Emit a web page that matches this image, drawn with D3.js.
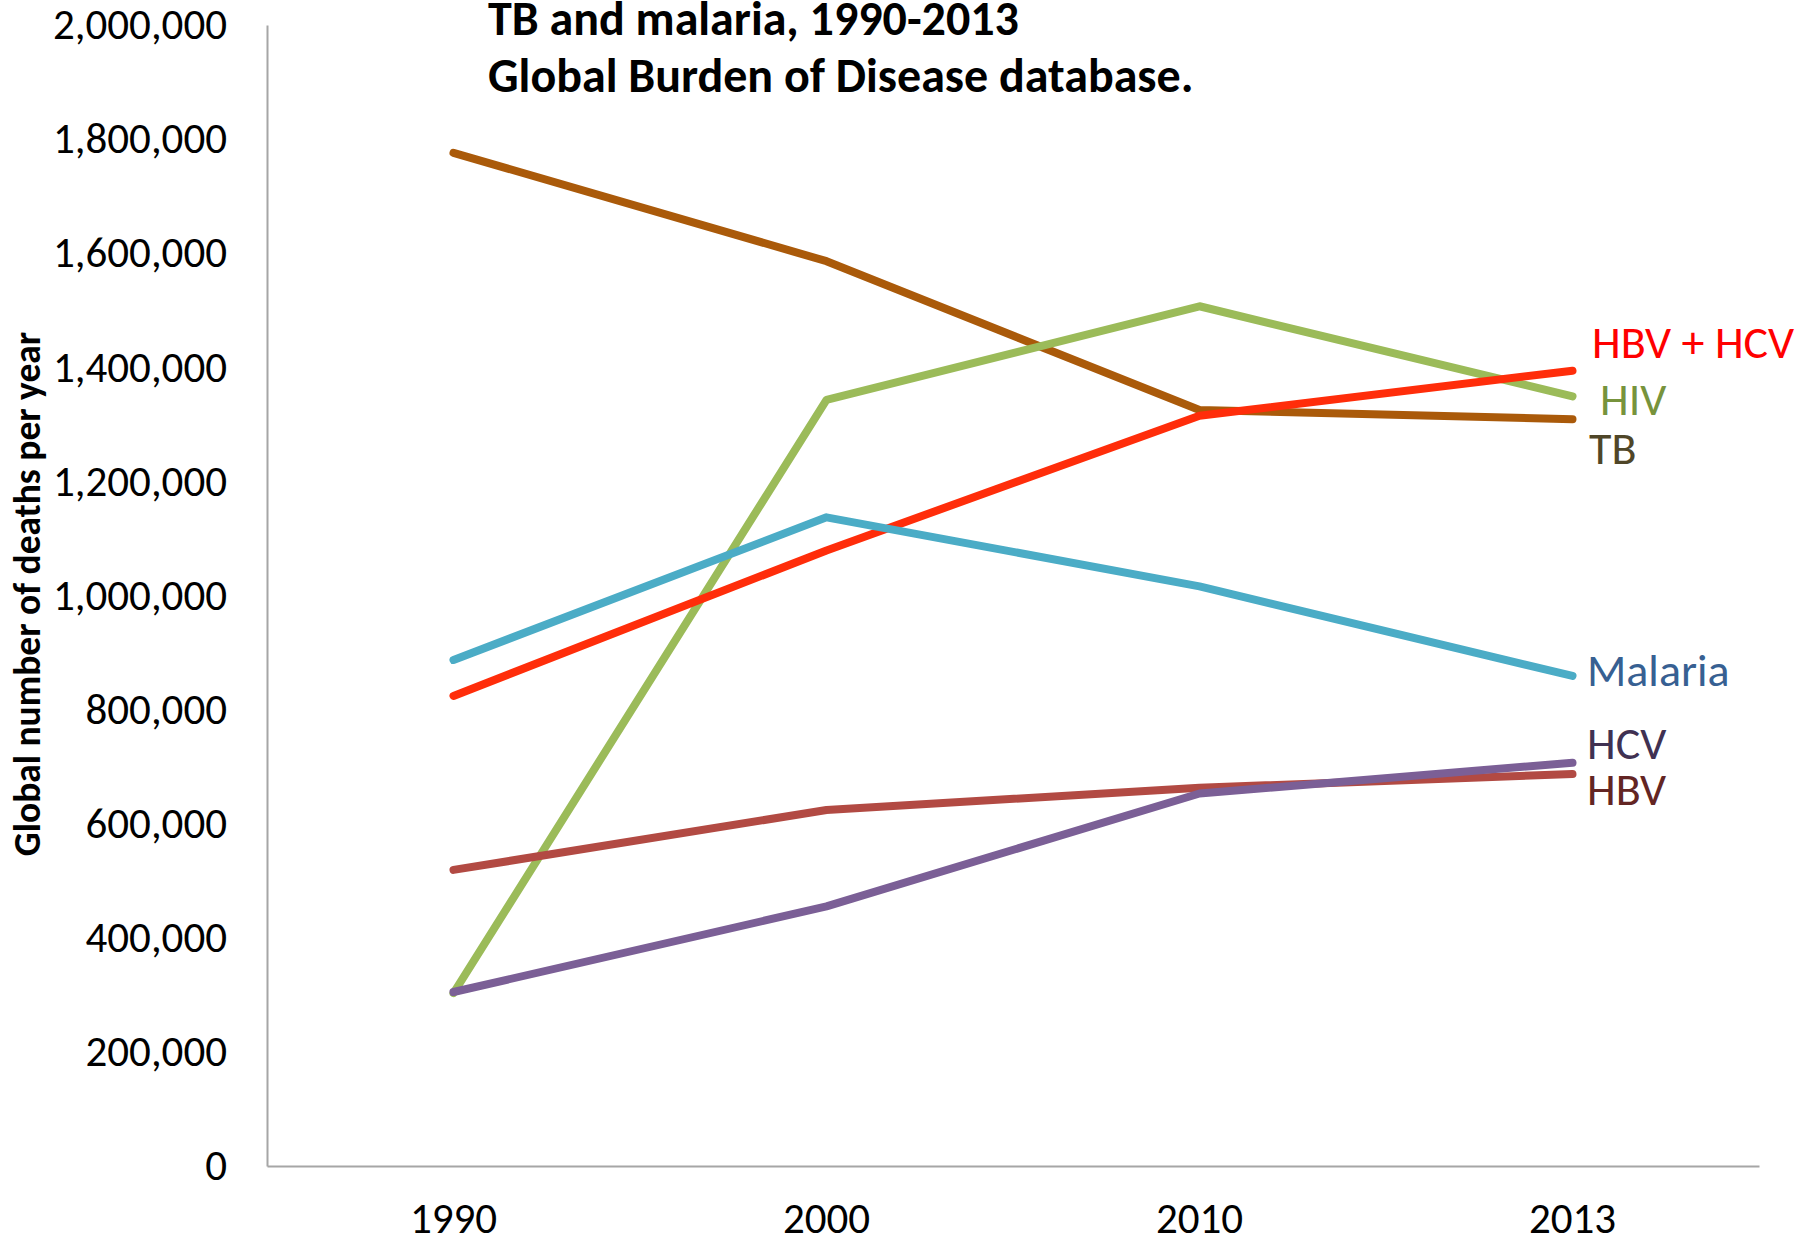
<!DOCTYPE html>
<html>
<head>
<meta charset="utf-8">
<script src="https://cdn.jsdelivr.net/npm/d3@7"></script>
<style>
  body { margin: 0; background: #fff; }
  svg text { font-family: Carlito, Calibri, Lato, "Open Sans", sans-serif; }
</style>
</head>
<body>
<div class="chart"></div>
<script>
// data
const years = ['1990', '2000', '2010', '2013'];
const tb      = [1776000, 1586000, 1325000, 1309000];
const hiv     = [303000, 1343000, 1507000, 1349000];
const hbvHcv  = [824000, 1079000, 1315000, 1394000];
const malaria = [887000, 1137000, 1016000, 859000];
const hbv     = [519000, 624000, 663000, 687000];
const hcv     = [305000, 455000, 653000, 707000];
const yTicks  = [0, 200000, 400000, 600000, 800000, 1000000, 1200000, 1400000, 1600000, 1800000, 2000000];

const series = [
    {name: 'TB',        values: tb,      line: '#aa5a0a', label: '#4f4628', dy: 464, dx: 1589},
    {name: 'HIV',       values: hiv,     line: '#9bbb59', label: '#77933c', dy: 415, dx: 1600},
    {name: 'HBV + HCV', values: hbvHcv,  line: '#ff2d0a', label: '#ff0000', dy: 358, dx: 1592},
    {name: 'Malaria',   values: malaria, line: '#4bacc6', label: '#376092', dy: 686, dx: 1587},
    {name: 'HBV',       values: hbv,     line: '#b24a43', label: '#632523', dy: 805, dx: 1587},
    {name: 'HCV',       values: hcv,     line: '#7b5f96', label: '#403152', dy: 759, dx: 1587}
];

const W = 1806, H = 1243;
const svg = d3.select('.chart').append('svg')
            .attr('width', W)
            .attr('height', H);

// scales
const xScale = d3.scaleBand().domain(years).range([267, 1759]);
const yScale = d3.scaleLinear().domain([0, 2000000]).range([1166, 25]);
const xPos = d => xScale(d) + xScale.bandwidth() / 2;

// axes
const yAxis = d3.axisLeft(yScale)
                .tickValues(yTicks)
                .tickFormat(d3.format(','))
                .tickSize(0)
                .tickSizeOuter(0)
                .tickPadding(40);
const xAxis = d3.axisBottom(xScale)
                .tickSize(0)
                .tickSizeOuter(0)
                .tickPadding(36);

const yAxis_group = svg.append('g')
                .attr('transform', 'translate(267,0)')
                .call(yAxis);
const xAxis_group = svg.append('g')
                .attr('transform', 'translate(0,1166)')
                .call(xAxis);

[yAxis_group, xAxis_group].forEach(g => {
    g.select('.domain').attr('stroke', '#a6a6a6').attr('stroke-width', 2);
    g.selectAll('.tick text').attr('font-size', 43).attr('fill', '#000')
        .style('font-family', 'Carlito, Calibri, Lato, "Open Sans", sans-serif');
});

// lines
const line = d3.line()
            .x((d, i) => xPos(years[i]))
            .y(d => yScale(d));

svg.append('g').selectAll('path')
    .data(series)
    .enter()
    .append('path')
    .attr('d', d => line(d.values))
    .attr('fill', 'none')
    .attr('stroke', d => d.line)
    .attr('stroke-width', 8)
    .attr('stroke-linecap', 'round')
    .attr('stroke-linejoin', 'round');

// series labels at the right end
svg.append('g').selectAll('text')
    .data(series)
    .enter()
    .append('text')
    .attr('x', d => d.dx)
    .attr('y', d => d.dy)
    .attr('font-size', 46)
    .attr('fill', d => d.label)
    .text(d => d.name);

// title
const title = svg.append('text')
            .attr('x', 488)
            .attr('y', 35)
            .attr('font-size', 48)
            .attr('font-weight', 'bold');
title.append('tspan').attr('x', 488).text('TB and malaria, 1990-2013');
title.append('tspan').attr('x', 488).attr('dy', 57).text('Global Burden of Disease database.');

// y axis title
svg.append('text')
    .attr('transform', 'translate(40,594) rotate(-90)')
    .attr('text-anchor', 'middle')
    .attr('font-size', 37.5)
    .attr('font-weight', 'bold')
    .text('Global number of deaths per year');
</script>
</body>
</html>
